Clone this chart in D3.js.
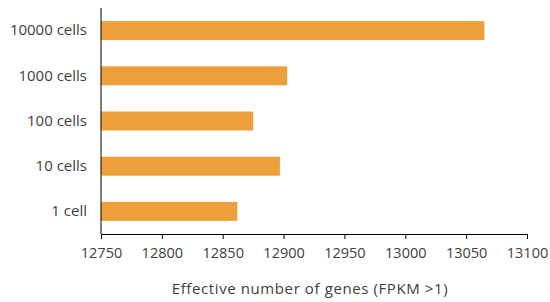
<!DOCTYPE html>
<html>
<head>
  <meta charset="utf-8">
  <script src="https://d3js.org/d3.v7.min.js"></script>
  <style>
    body { margin: 0; background: #fff; }
    text { font-family: "Open Sans", "Lato", sans-serif; fill: #404040; }
    .axis path, .axis line { stroke: #000; }
  </style>
</head>
<body>
  <svg id="chart" width="550" height="302"></svg>
  <script>
    // data
    const categories = ["10000 cells", "1000 cells", "100 cells", "10 cells", "1 cell"];
    const values = [13065, 12903, 12875, 12897, 12862];
    const xTicks = [12750, 12800, 12850, 12900, 12950, 13000, 13050, 13100];

    const svg = d3.select("#chart");
    const plotLeft = 101, plotRight = 527, plotTop = 8, plotBottom = 234;

    const x = d3.scaleLinear().domain([12750, 13100]).range([plotLeft, plotRight]);
    const y = d3.scaleBand().domain(categories).range([plotTop, plotBottom])
      .paddingInner(0.58).paddingOuter(0.29);

    // bars
    svg.selectAll(".bar")
      .data(categories)
      .enter()
      .append("rect")
      .attr("class", "bar")
      .attr("x", x(12750))
      .attr("y", d => y(d))
      .attr("width", (d, i) => x(values[i]) - x(12750))
      .attr("height", y.bandwidth())
      .attr("fill", "#eda03a");

    // x axis
    const xAxis = svg.append("g")
      .attr("class", "axis")
      .attr("transform", `translate(0,${plotBottom})`)
      .call(d3.axisBottom(x).tickValues(xTicks).tickFormat(d3.format("d"))
        .tickSize(5).tickSizeOuter(0).tickPadding(9));
    xAxis.selectAll("text").style("font-size", "14.5px");

    // y axis
    const yAxis = svg.append("g")
      .attr("class", "axis")
      .attr("transform", `translate(${plotLeft},0)`)
      .call(d3.axisLeft(y).tickSize(0).tickPadding(14));
    yAxis.selectAll("text").style("font-size", "15px");
    yAxis.select(".domain").attr("d", `M0,${plotTop}V${plotBottom}`);

    // axis title
    svg.append("text")
      .attr("x", 310)
      .attr("y", 294)
      .attr("text-anchor", "middle")
      .style("font-size", "15px")
      .style("letter-spacing", "0.6px")
      .text("Effective number of genes (FPKM >1)");
  </script>
</body>
</html>
